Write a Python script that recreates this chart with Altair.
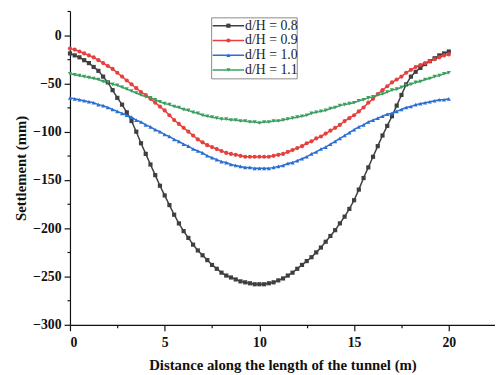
import altair as alt
import pandas as pd

DIST = [0, 0.25, 0.5, 0.75, 1, 1.25, 1.5, 1.75, 2, 2.25, 2.5, 2.75, 3, 3.25, 3.5, 3.75,
        4, 4.25, 4.5, 4.75, 5, 5.25, 5.5, 5.75, 6, 6.25, 6.5, 6.75, 7, 7.25, 7.5, 7.75,
        8, 8.25, 8.5, 8.75, 9, 9.25, 9.5, 9.75, 10, 10.25, 10.5, 10.75, 11, 11.25, 11.5, 11.75,
        12, 12.25, 12.5, 12.75, 13, 13.25, 13.5, 13.75, 14, 14.25, 14.5, 14.75, 15, 15.25, 15.5, 15.75,
        16, 16.25, 16.5, 16.75, 17, 17.25, 17.5, 17.75, 18, 18.25, 18.5, 18.75, 19, 19.25, 19.5, 19.75, 20]

S08 = [-19, -21, -23, -26, -29, -33, -37, -43, -49, -57, -65, -72, -80, -89, -100, -112,
       -123, -134, -145, -156, -166, -176, -186, -195, -203, -210, -217, -223, -228, -233, -238, -242,
       -246, -249, -251, -253, -255, -256, -257, -258, -258, -258, -257, -256, -254, -252, -249, -246,
       -242, -238, -234, -230, -225, -220, -214, -208, -202, -195, -188, -180, -171, -160, -148, -137,
       -126, -115, -104, -94, -84, -73, -62, -51, -43, -38, -34, -30, -27, -24, -21, -19, -17]
S09 = [-14, -15, -17, -19, -21, -23, -26, -29, -32, -35, -39, -43, -47, -51, -55, -59,
       -62, -66, -70, -74, -78, -83, -88, -92, -96, -100, -104, -108, -111, -114, -116, -118,
       -120, -122, -123, -124, -125, -126, -126, -126, -126, -126, -126, -125, -124, -123, -121, -119,
       -117, -115, -112, -110, -107, -105, -102, -99, -96, -93, -89, -86, -83, -79, -75, -70,
       -66, -61, -57, -53, -49, -46, -43, -39, -36, -33, -31, -29, -27, -25, -23, -21, -20]
S10 = [-65, -66, -67, -68, -69, -70, -72, -73, -75, -77, -79, -81, -83, -85, -88, -90,
       -93, -95, -98, -100, -103, -105, -108, -110, -113, -115, -118, -120, -122, -125, -127, -129,
       -131, -132, -134, -135, -136, -137, -137, -138, -138, -138, -138, -137, -136, -135, -133, -132,
       -130, -128, -126, -123, -121, -118, -116, -113, -110, -107, -104, -101, -98, -95, -93, -90,
       -88, -86, -84, -82, -81, -79, -77, -75, -74, -72, -71, -70, -69, -68, -67, -67, -66]
S11 = [-40, -41, -42, -43, -44, -45, -46, -48, -49, -51, -52, -54, -56, -58, -60, -62,
       -64, -65, -67, -69, -71, -72, -74, -75, -77, -78, -80, -81, -83, -84, -85, -86,
       -87, -87, -88, -88, -89, -89, -90, -90, -91, -90, -90, -89, -89, -88, -87, -86,
       -85, -84, -83, -81, -80, -79, -78, -76, -75, -73, -72, -71, -70, -68, -67, -65,
       -64, -62, -61, -59, -57, -56, -54, -52, -51, -49, -48, -46, -45, -43, -42, -40, -39]

SERIES = ["d/H = 0.8", "d/H = 0.9", "d/H = 1.0", "d/H = 1.1"]
VALUES = [S08, S09, S10, S11]
COLORS = ["#3f3f3f", "#e5403e", "#2a6fd2", "#3c9f60"]
SHAPES = ["square", "circle", "triangle-up", "triangle-down"]

X_MAJOR = [0, 5, 10, 15, 20]
X_MINOR = [2.5, 7.5, 12.5, 17.5]
Y_MAJOR = [0, -50, -100, -150, -200, -250, -300]
Y_MINOR = [25, -25, -75, -125, -175, -225, -275]

rows = []
for name, vals in zip(SERIES, VALUES):
    for d, v in zip(DIST, vals):
        rows.append({"d": d, "v": v, "series": name})
df = pd.DataFrame(rows)

FONT = "Liberation Serif"
xscale = alt.Scale(domain=[0, 22.44], nice=False, zero=False)
yscale = alt.Scale(domain=[-300, 25], nice=False, zero=False)
cscale = alt.Scale(domain=SERIES, range=COLORS)
sscale = alt.Scale(domain=SERIES, range=SHAPES)

x_major = alt.Axis(orient="bottom", values=X_MAJOR, format="d", tickSize=6,
                   title="Distance along the length of the tunnel (m)", titlePadding=8, labelPadding=5)
y_major = alt.Axis(orient="left", values=Y_MAJOR, format="d", tickSize=6, title="Settlement (mm)",
                   titlePadding=4, labelPadding=3)
x_minor = alt.Axis(orient="bottom", values=X_MINOR, tickSize=3, labels=False, domain=False, title=None)
y_minor = alt.Axis(orient="left", values=Y_MINOR, tickSize=3, labels=False, domain=False, title=None)

lines = alt.Chart(df).mark_line(strokeWidth=1.5).encode(
    x=alt.X("d:Q", scale=xscale, axis=x_major),
    y=alt.Y("v:Q", scale=yscale, axis=y_major),
    color=alt.Color("series:N", scale=cscale, legend=None),
    detail="series:N",
)
points = alt.Chart(df).mark_point(filled=True, size=18, opacity=1).encode(
    x=alt.X("d:Q", scale=xscale, axis=None),
    y=alt.Y("v:Q", scale=yscale, axis=None),
    color=alt.Color("series:N", scale=cscale, legend=None),
    shape=alt.Shape("series:N", scale=sscale, legend=None),
)
minor = alt.Chart(df).mark_point(opacity=0).encode(
    x=alt.X("d:Q", scale=xscale, axis=x_minor),
    y=alt.Y("v:Q", scale=yscale, axis=y_minor),
)

one = pd.DataFrame({"k": [0]})
legend_layers = [
    alt.Chart(one).mark_rect(fill="white", stroke="#8a8a8a", strokeWidth=1).encode(
        x=alt.value(144), x2=alt.value(231), y=alt.value(7), y2=alt.value(69))
]
for i, (name, col, shp) in enumerate(zip(SERIES, COLORS, SHAPES)):
    yy = 15 + 15 * i
    legend_layers.append(alt.Chart(one).mark_rule(color=col, strokeWidth=1.5).encode(
        x=alt.value(145), x2=alt.value(177), y=alt.value(yy)))
    legend_layers.append(alt.Chart(one).mark_point(filled=True, size=18, opacity=1, color=col, shape=shp).encode(
        x=alt.value(161), y=alt.value(yy)))
    legend_layers.append(alt.Chart(one).mark_text(align="left", baseline="middle", font=FONT, fontSize=14,
                                                  color="#222").encode(
        x=alt.value(178), y=alt.value(yy), text=alt.value(name)))

chart = alt.layer(minor, lines, points, *legend_layers).resolve_axis(
    x="independent", y="independent"
).properties(
    width=432, height=319,
    padding={"left": 63, "top": 0, "right": 0, "bottom": 47},
    autosize=alt.AutoSizeParams(type="none"),
).configure_view(stroke=None).configure_axis(
    grid=False,
    domainColor="#111", domainWidth=1.2,
    tickColor="#111", tickWidth=1.2,
    labelFont=FONT, labelFontWeight="bold", labelFontSize=14, labelColor="#111",
    titleFont=FONT, titleFontWeight="bold", titleFontSize=15, titleColor="#111",
)

chart.save("out.html", embed_options={"renderer": "svg", "actions": False})
